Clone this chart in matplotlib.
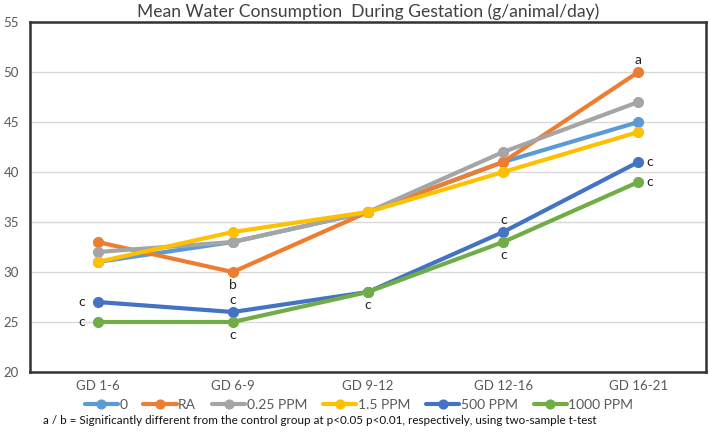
import matplotlib.pyplot as plt

plt.rcParams['font.family'] = ['Lato', 'DejaVu Sans']

# data
periods = ['GD 1-6', 'GD 6-9', 'GD 9-12', 'GD 12-16', 'GD 16-21']
groups = ['0', 'RA', '0.25 PPM', '1.5 PPM', '500 PPM', '1000 PPM']
ctrl = [31, 33, 36, 41, 45]
ra = [33, 30, 36, 41, 50]
ppm_025 = [32, 33, 36, 42, 47]
ppm_15 = [31, 34, 36, 40, 44]
ppm_500 = [27, 26, 28, 34, 41]
ppm_1000 = [25, 25, 28, 33, 39]
colors = ['#5B9BD5', '#ED7D31', '#A5A5A5', '#FFC000', '#4472C4', '#70AD47']

# significance letters: (series index, period index, letter, placement)
marks = [
    (1, 4, 'a', 'above'), (1, 1, 'b', 'below'),
    (4, 0, 'c', 'left'), (5, 0, 'c', 'left'),
    (4, 1, 'c', 'above'), (5, 1, 'c', 'below'),
    (5, 2, 'c', 'below'),
    (4, 3, 'c', 'above'), (5, 3, 'c', 'below'),
    (4, 4, 'c', 'right'), (5, 4, 'c', 'right'),
]

series = [ctrl, ra, ppm_025, ppm_15, ppm_500, ppm_1000]

fig = plt.figure(figsize=(7.09, 4.32), dpi=100)
ax = fig.add_axes([30 / 709, 1 - 372 / 432, 676 / 709, 350 / 432])

x = list(range(len(periods)))
for i in range(len(series)):
    ax.plot(x, series[i], color=colors[i], lw=3, marker='o', ms=7,
            label=groups[i], solid_capstyle='round')

offsets = {'above': (0, 4, 'center', 'bottom'), 'below': (0, -5, 'center', 'top'),
           'left': (-9, 0, 'right', 'center'), 'right': (6, 0, 'left', 'center')}
for s, p, txt, where in marks:
    dx, dy, ha, va = offsets[where]
    ax.annotate(txt, (p, series[s][p]), xytext=(dx, dy), textcoords='offset points',
                ha=ha, va=va, fontsize=10, color='#222222')

ax.set_xlim(-0.5, 4.5)
ax.set_ylim(20, 55)
ax.set_yticks(range(20, 56, 5))
ax.set_xticks(x)
ax.set_xticklabels(periods)
ax.tick_params(axis='both', length=0, labelsize=9.5, colors='#595959')
ax.tick_params(axis='x', pad=6)
ax.tick_params(axis='y', pad=8)
ax.grid(axis='y', color='#D9D9D9', lw=1)
ax.set_axisbelow(True)
for sp in ax.spines.values():
    sp.set_color('#333333')
    sp.set_linewidth(1.8)

fig.text(368 / 709, 1 - 12 / 432, 'Mean Water Consumption  During Gestation (g/animal/day)',
         ha='center', va='center', fontsize=12.6, color='#404040')

fig.legend(loc='center left', bbox_to_anchor=(72 / 709, 1 - 405 / 432), ncol=6, frameon=False,
           fontsize=10, handlelength=2.4, handletextpad=0.1, columnspacing=1.15,
           labelcolor='#595959', markerscale=0.9)

fig.text(43 / 709, 1 - 421 / 432,
         'a / b = Significantly different from the control group at p<0.05 p<0.01, respectively, using two-sample t-test',
         ha='left', va='center', fontsize=8.4, color='#111111')

fig.savefig('out.png', dpi=100)
